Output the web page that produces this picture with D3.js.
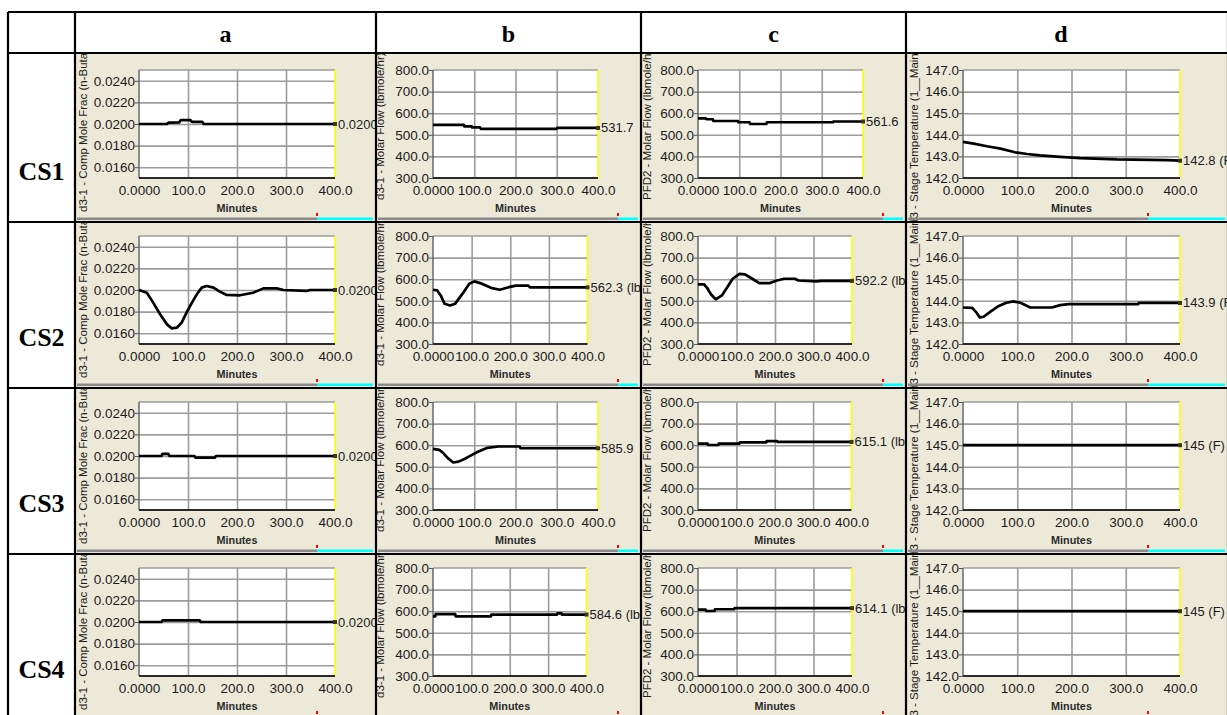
<!DOCTYPE html>
<html><head><meta charset="utf-8">
<script src="https://cdn.jsdelivr.net/npm/d3@7"></script>
<style>
html,body{margin:0;padding:0;background:#fff;overflow:hidden;}
svg{display:block;}
</style></head><body>
<svg id="chart" width="1227" height="715"></svg>
<script>
// ---- labels ----
const columnLetters = ["a", "b", "c", "d"];
const caseNames = ["CS1", "CS2", "CS3", "CS4"];
const axisTitles = [
  "d3-1 - Comp Mole Frac (n-Butane)",
  "d3-1 - Molar Flow (lbmole/hr)",
  "PFD2 - Molar Flow (lbmole/hr)",
  "d3 - Stage Temperature (1__Main TS)"
];
const timeTicks = [0, 100, 200, 300, 400];
const timeTickLabels = ["0.0000", "100.0", "200.0", "300.0", "400.0"];
const timeGrid = [100, 200, 300];

const moleFracDomain = [0.015, 0.025];
const moleFracTicks = [0.016, 0.018, 0.020, 0.022, 0.024];
const moleFracTickLabels = ["0.0160", "0.0180", "0.0200", "0.0220", "0.0240"];
const flowDomain = [300, 800];
const flowTicks = [300, 400, 500, 600, 700, 800];
const flowTickLabels = ["300.0", "400.0", "500.0", "600.0", "700.0", "800.0"];
const tempDomain = [142, 147];
const tempTicks = [142, 143, 144, 145, 146, 147];
const tempTickLabels = ["142.0", "143.0", "144.0", "145.0", "146.0", "147.0"];

// ---- series: [minutes, value] ----
const moleFracCS1 = [[0,0.0200],[57,0.0200],[60,0.02012],[82,0.02015],[85,0.02035],[105,0.02035],[108,0.0202],[129,0.0202],[132,0.0200],[400,0.0200]];
const moleFracCS2 = [[0,0.0200],[16,0.01975],[29,0.01883],[43,0.01775],[57,0.01682],[67,0.01645],[77,0.01651],[87,0.01698],[97,0.0179],[108,0.01883],[118,0.0196],[128,0.02022],[138,0.02037],[152,0.02022],[165,0.01985],[179,0.01954],[206,0.01951],[233,0.01975],[254,0.02015],[281,0.02015],[295,0.0200],[342,0.01991],[349,0.0200],[400,0.0200]];
const moleFracCS3 = [[0,0.0200],[46,0.0200],[48,0.0202],[60,0.0202],[62,0.0200],[113,0.0200],[115,0.01985],[155,0.01985],[157,0.0200],[400,0.0200]];
const moleFracCS4 = [[0,0.0200],[46,0.0200],[48,0.02015],[124,0.02015],[126,0.0200],[400,0.0200]];

const d31FlowCS1 = [[0,546],[75,546],[76,539],[94,539],[95,534],[114,534],[116,527],[299,527],[301,531.7],[400,531.7]];
const d31FlowCS2 = [[0,551],[11,548],[20,525],[30,486],[44,478],[57,486],[76,532],[94,579],[107,590],[122,582],[150,560],[173,551],[196,563],[215,570],[247,570],[251,562.3],[400,562.3]];
const d31FlowCS3 = [[0,583],[15,578],[23,567],[36,540],[49,520],[62,524],[80,540],[106,567],[132,588],[158,594],[210,594],[212,585.9],[400,585.9]];
const d31FlowCS4 = [[0,576],[6,576],[7,586],[58,586],[59,576],[151,576],[152,584.6],[323,584.6],[324,590],[335,590],[336,584.6],[400,584.6]];

const pfd2FlowCS1 = [[0,576],[19,576],[20,572],[36,572],[37,564],[97,564],[98,558],[125,558],[126,550],[166,550],[167,558],[327,558],[328,561.6],[400,561.6]];
const pfd2FlowCS2 = [[0,576],[16,576],[25,556],[34,529],[46,507],[62,525],[76,563],[90,602],[108,625],[122,622],[141,602],[159,582],[187,582],[205,594],[224,602],[252,602],[261,594],[307,590],[321,592.2],[400,592.2]];
const pfd2FlowCS3 = [[0,607],[25,607],[26,601],[53,601],[54,607],[108,607],[109,613],[178,613],[179,619],[206,619],[207,615.1],[400,615.1]];
const pfd2FlowCS4 = [[0,607],[20,607],[21,601],[43,601],[44,609],[94,609],[95,614.1],[400,614.1]];

const stageTempCS1 = [[0,143.67],[20,143.59],[44,143.47],[69,143.36],[96,143.19],[118,143.11],[142,143.05],[179,142.98],[216,142.92],[284,142.86],[376,142.83],[400,142.8]];
const stageTempCS2 = [[0,143.69],[17,143.67],[25,143.45],[31,143.23],[38,143.26],[50,143.49],[66,143.76],[80,143.91],[93,143.97],[106,143.91],[124,143.69],[164,143.69],[179,143.8],[195,143.85],[323,143.85],[324,143.9],[400,143.9]];
const stageTempCS3 = [[0,145],[400,145]];
const stageTempCS4 = [[0,145],[400,145]];

const endLabels = [
  ["0.0200", "531.7", "561.6", "142.8 (F)"],
  ["0.0200", "562.3 (lbmole/hr)", "592.2 (lbmole/hr)", "143.9 (F)"],
  ["0.0200", "585.9", "615.1 (lbmole/hr)", "145 (F)"],
  ["0.0200", "584.6 (lbmole/hr)", "614.1 (lbmole/hr)", "145 (F)"]
];

// ---- assembled per column / row ----
const seriesGrid = [
  [moleFracCS1, d31FlowCS1, pfd2FlowCS1, stageTempCS1],
  [moleFracCS2, d31FlowCS2, pfd2FlowCS2, stageTempCS2],
  [moleFracCS3, d31FlowCS3, pfd2FlowCS3, stageTempCS3],
  [moleFracCS4, d31FlowCS4, pfd2FlowCS4, stageTempCS4]
];
const yDomains = [moleFracDomain, flowDomain, flowDomain, tempDomain];
const yTicks = [moleFracTicks, flowTicks, flowTicks, tempTicks];
const yTickLabels = [moleFracTickLabels, flowTickLabels, flowTickLabels, tempTickLabels];

// ---- layout ----
const colEdges = [8, 75, 376, 641, 906, 1228];
const rowEdges = [12, 53, 222, 388, 554, 720];
const plotInset = [64, 57, 57, 57];
const plotWidths = [[196, 165, 165, 217], [196, 154.5, 154, 217], [196, 165, 153.5, 217], [196, 153.5, 154, 217]];
const plotHeight = 108;
const titleX = [7.7, 3.5, 6, 7.5];
const titleStart = [10, 22, 22, -3];

const sans = "'Liberation Sans', Arial, sans-serif";
const serif = "'Liberation Serif', 'Times New Roman', serif";
const panelBg = "#ECE9D8";
const textCol = "#1b1b1b";

const svg = d3.select("#chart");
const defs = svg.append("defs");

// white header row and label column
svg.append("rect").attr("x", 0).attr("y", 0).attr("width", 1227).attr("height", 715).attr("fill", "#fff");

seriesGrid.forEach((rowSeries, r) => {
  const ry0 = rowEdges[r + 1], ry1 = rowEdges[r + 2];
  rowSeries.forEach((data, c) => {
    const cx0 = colEdges[c + 1], cx1 = colEdges[c + 2];
    const id = `cell-${r}-${c}`;
    defs.append("clipPath").attr("id", id)
      .append("rect").attr("x", cx0).attr("y", ry0).attr("width", cx1 - cx0).attr("height", ry1 - ry0);
    const g = svg.append("g").attr("clip-path", `url(#${id})`);
    g.append("rect").attr("x", cx0).attr("y", ry0).attr("width", cx1 - cx0).attr("height", ry1 - ry0).attr("fill", panelBg);

    const left = cx0 + plotInset[c];
    const top = ry1 - 152;
    const w = plotWidths[r][c];
    const x = d3.scaleLinear().domain([0, 400]).range([left, left + w]);
    const y = d3.scaleLinear().domain(yDomains[c]).range([top + plotHeight, top]);

    // axis title
    g.append("text")
      .attr("transform", `translate(${cx0 + titleX[c]},${ry1 - titleStart[c]}) rotate(-90)`)
      .attr("dominant-baseline", "central")
      .attr("font-family", sans).attr("font-size", 11.5).attr("fill", textCol)
      .text(axisTitles[c]);

    // plot area
    g.append("rect").attr("x", left).attr("y", top).attr("width", w).attr("height", plotHeight).attr("fill", "#fff");

    // grid
    const gy = g.append("g").attr("transform", `translate(${left},0)`)
      .call(d3.axisLeft(y).tickValues(yTicks[c].filter(v => v > yDomains[c][0] && v < yDomains[c][1])).tickSize(-w).tickFormat(""));
    gy.select(".domain").remove();
    gy.selectAll(".tick line").attr("stroke", "#9c9c9c").attr("stroke-width", 1.6);
    const gx = g.append("g").attr("transform", `translate(0,${top + plotHeight})`)
      .call(d3.axisBottom(x).tickValues(timeGrid).tickSize(-plotHeight).tickFormat(""));
    gx.select(".domain").remove();
    gx.selectAll(".tick line").attr("stroke", "#9c9c9c").attr("stroke-width", 1.6);

    // frame
    g.append("line").attr("x1", left).attr("x2", left + w).attr("y1", top).attr("y2", top).attr("stroke", "#9c9c9c").attr("stroke-width", 1.6);
    g.append("line").attr("x1", left + w).attr("x2", left + w).attr("y1", top).attr("y2", top + plotHeight).attr("stroke", "#ffff00").attr("stroke-width", 1.6);
    g.append("line").attr("x1", left).attr("x2", left).attr("y1", top).attr("y2", top + plotHeight).attr("stroke", "#6a6a6a").attr("stroke-width", 1.5);
    g.append("line").attr("x1", left).attr("x2", left + w).attr("y1", top + plotHeight).attr("y2", top + plotHeight).attr("stroke", "#2a2a2a").attr("stroke-width", 2);

    // y tick labels
    const ay = g.append("g").attr("transform", `translate(${left},0)`)
      .call(d3.axisLeft(y).tickValues(yTicks[c]).tickSize(4).tickPadding(0)
        .tickFormat((d, i) => yTickLabels[c][i]));
    ay.select(".domain").remove();
    ay.selectAll(".tick line").attr("stroke", "#555").attr("stroke-width", 1);
    ay.selectAll(".tick text").attr("font-family", sans).attr("font-size", 13.5).attr("fill", textCol);

    // x tick labels
    const ax = g.append("g").attr("transform", `translate(0,${top + plotHeight})`)
      .call(d3.axisBottom(x).tickValues(timeTicks).tickSize(0).tickPadding(7)
        .tickFormat((d, i) => timeTickLabels[i]));
    ax.select(".domain").remove();
    ax.selectAll(".tick text").attr("font-family", sans).attr("font-size", 13.5).attr("fill", textCol);

    g.append("text").attr("x", left + w / 2).attr("y", top + plotHeight + 34)
      .attr("text-anchor", "middle").attr("font-family", sans).attr("font-size", 10.8)
      .attr("font-weight", "bold").attr("fill", "#2a2a2a").text("Minutes");

    // trend line
    g.append("path").datum(data)
      .attr("d", d3.line().x(d => x(d[0])).y(d => y(d[1])))
      .attr("fill", "none").attr("stroke", "#000").attr("stroke-width", 2.7)
      .attr("stroke-linejoin", "round");

    const last = data[data.length - 1];
    g.append("rect").attr("x", x(last[0]) - 2).attr("y", y(last[1]) - 2).attr("width", 4).attr("height", 4)
      .attr("fill", "#3a3a1a");
    g.append("text").attr("x", x(last[0]) + 3).attr("y", y(last[1]))
      .attr("dominant-baseline", "central").attr("font-family", sans).attr("font-size", 13)
      .attr("fill", textCol).text(endLabels[r][c]);

    // scroll strip along the cell bottom
    const split = cx0 + 242;
    g.append("rect").attr("x", cx0 + 2).attr("y", ry1 - 4.5).attr("width", split - cx0 - 2).attr("height", 2.5).attr("fill", "#8a8a8a");
    g.append("rect").attr("x", split).attr("y", ry1 - 4.5).attr("width", cx1 - split - 3).attr("height", 2.5).attr("fill", "#00ffff");
    g.append("rect").attr("x", split - 1).attr("y", ry1 - 9).attr("width", 2).attr("height", 3).attr("fill", "#ff0000");
  });
});

// column headers
columnLetters.forEach((t, c) => {
  svg.append("text").attr("x", (colEdges[c + 1] + colEdges[c + 2]) / 2 + (c === 3 ? -6 : 0)).attr("y", 41.5)
    .attr("text-anchor", "middle").attr("font-family", serif).attr("font-weight", "bold")
    .attr("font-size", 24).attr("fill", "#000").text(t);
});
// case labels
caseNames.forEach((t, r) => {
  svg.append("text").attr("x", (colEdges[0] + colEdges[1]) / 2).attr("y", rowEdges[r + 2] - 42)
    .attr("text-anchor", "middle").attr("font-family", serif).attr("font-weight", "bold")
    .attr("font-size", 26).attr("fill", "#000").text(t);
});

// table rules
const rules = svg.append("g").attr("stroke", "#000").attr("stroke-width", 2.2);
rowEdges.forEach(yv => rules.append("line").attr("x1", colEdges[0]).attr("x2", colEdges[colEdges.length - 1]).attr("y1", yv).attr("y2", yv));
colEdges.forEach(xv => rules.append("line").attr("x1", xv).attr("x2", xv).attr("y1", rowEdges[0]).attr("y2", rowEdges[rowEdges.length - 1]));
</script>
</body></html>
